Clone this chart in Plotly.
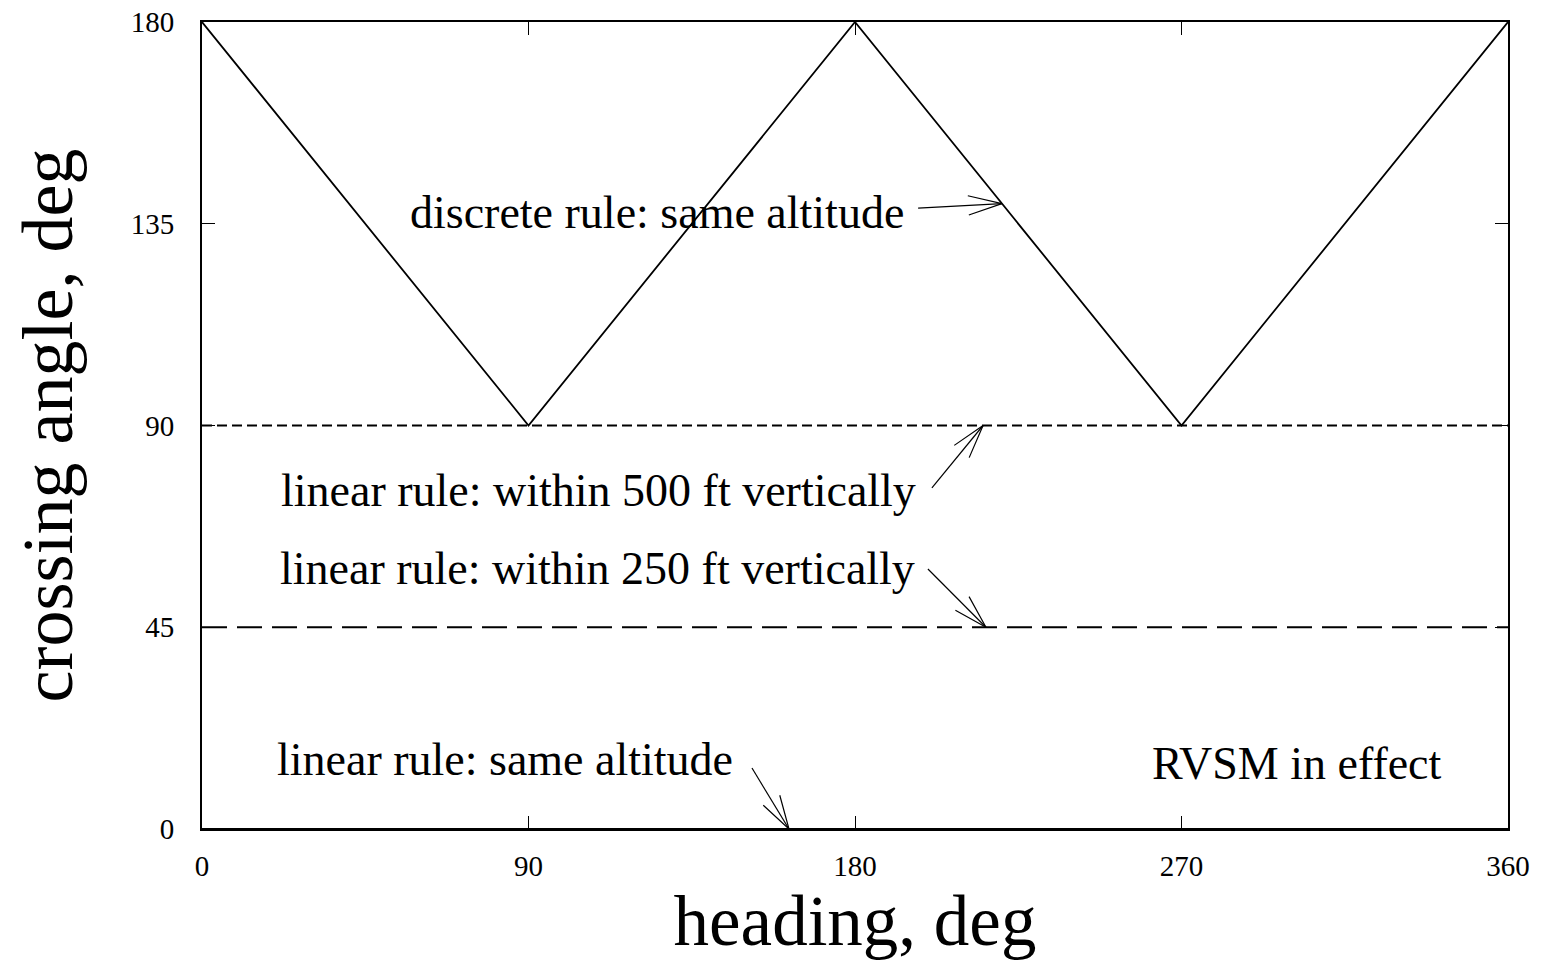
import math
import plotly.graph_objects as go

# ---- data ----
heading = [0, 90, 180, 270, 360]
discrete_same_alt = [180, 90, 180, 90, 180]
heading_ends = [0, 360]
linear_500ft = [90, 90]
linear_250ft = [45, 45]
linear_same_alt = [0, 0]

x_ticks = [0, 90, 180, 270, 360]
y_ticks = [0, 45, 90, 135, 180]

# labels: (text, x, y) anchored at right-middle
labels = [
    ("discrete rule: same altitude", 194.0, 137.6),
    ("linear rule: within 500 ft vertically", 197.3, 75.6),
    ("linear rule: within 250 ft vertically", 197.0, 58.2),
    ("linear rule: same altitude", 147.0, 15.4),
    ("RVSM in effect", 342.4, 14.7),
]
# arrows: (tail_x, tail_y, tip_x, tip_y)
arrows = [
    (197.4, 138.5, 220.5, 139.5),
    (201.2, 76.1, 215.3, 90.0),
    (200.1, 58.0, 216.1, 45.0),
    (151.6, 13.6, 161.8, 0.0),
]

# ---- layout geometry (page body has an 8px margin) ----
W_PX, H_PX = 1539, 954
ML, MR, MT, MB = 194, 39, 14, 133
PW = W_PX - ML - MR
PH = H_PX - MT - MB
XR = [0, 360]
YR = [0, 180]
SERIF = "Liberation Serif"


def to_px(x, y):
    return (ML + (x - XR[0]) / (XR[1] - XR[0]) * PW,
            MT + (YR[1] - y) / (YR[1] - YR[0]) * PH)


def to_data(px, py):
    return (XR[0] + (px - ML) / PW * (XR[1] - XR[0]),
            YR[1] - (py - MT) / PH * (YR[1] - YR[0]))


fig = go.Figure()
line_style = dict(color="black", width=1.8)
fig.add_trace(go.Scatter(x=heading, y=discrete_same_alt, mode="lines",
                         line=line_style, showlegend=False, hoverinfo="skip"))
fig.add_trace(go.Scatter(x=heading_ends, y=linear_500ft, mode="lines",
                         line=dict(color="black", width=1.8, dash="10px,5px"),
                         showlegend=False, hoverinfo="skip"))
fig.add_trace(go.Scatter(x=heading_ends, y=linear_250ft, mode="lines",
                         line=dict(color="black", width=1.8, dash="25px,10px"),
                         showlegend=False, hoverinfo="skip"))
fig.add_trace(go.Scatter(x=heading_ends, y=linear_same_alt, mode="lines",
                         line=line_style, showlegend=False, hoverinfo="skip"))

# arrows with open heads
HEAD_LEN = 35
HEAD_ANG = math.radians(16)
for tx, ty, hx, hy in arrows:
    tpx, tpy = to_px(tx, ty)
    hpx, hpy = to_px(hx, hy)
    dx, dy = tpx - hpx, tpy - hpy
    L = math.hypot(dx, dy)
    ux, uy = dx / L, dy / L
    pts = []
    for s in (1, -1):
        c, sn = math.cos(s * HEAD_ANG), math.sin(s * HEAD_ANG)
        rx, ry = ux * c - uy * sn, ux * sn + uy * c
        pts.append(to_data(hpx + HEAD_LEN * rx, hpy + HEAD_LEN * ry))
    xs = [tx, hx, None, pts[0][0], hx, pts[1][0]]
    ys = [ty, hy, None, pts[0][1], hy, pts[1][1]]
    fig.add_trace(go.Scatter(x=xs, y=ys, mode="lines",
                             line=dict(color="black", width=1.2),
                             showlegend=False, hoverinfo="skip",
                             cliponaxis=False))

for text, x, y in labels:
    fig.add_annotation(x=x, y=y, text=text, showarrow=False,
                       xanchor="right", yanchor="middle",
                       font=dict(family=SERIF, size=46, color="black"))

axis_common = dict(showgrid=False, zeroline=False, showline=True, linecolor="black",
                   linewidth=2, mirror="ticks", ticks="inside", ticklen=13,
                   tickwidth=1.2, tickcolor="black", automargin=False,
                   ticklabeloverflow="allow",
                   tickfont=dict(family=SERIF, size=29, color="black"))

fig.update_xaxes(range=XR, tickvals=x_ticks, ticktext=[str(v) for v in x_ticks],
                 ticklabelstandoff=10,
                 title=dict(text="heading, deg", standoff=10,
                            font=dict(family=SERIF, size=71, color="black")),
                 **axis_common)
fig.update_yaxes(range=YR, tickvals=y_ticks, ticktext=[str(v) for v in y_ticks],
                 ticklabelstandoff=20,
                 title=dict(text="crossing angle, deg", standoff=42,
                            font=dict(family=SERIF, size=72, color="black")),
                 **axis_common)

fig.update_layout(width=W_PX, height=H_PX,
                  margin=dict(l=ML, r=MR, t=MT, b=MB),
                  plot_bgcolor="white", paper_bgcolor="white",
                  font=dict(family=SERIF, color="black"))

fig.write_html("out.html")
